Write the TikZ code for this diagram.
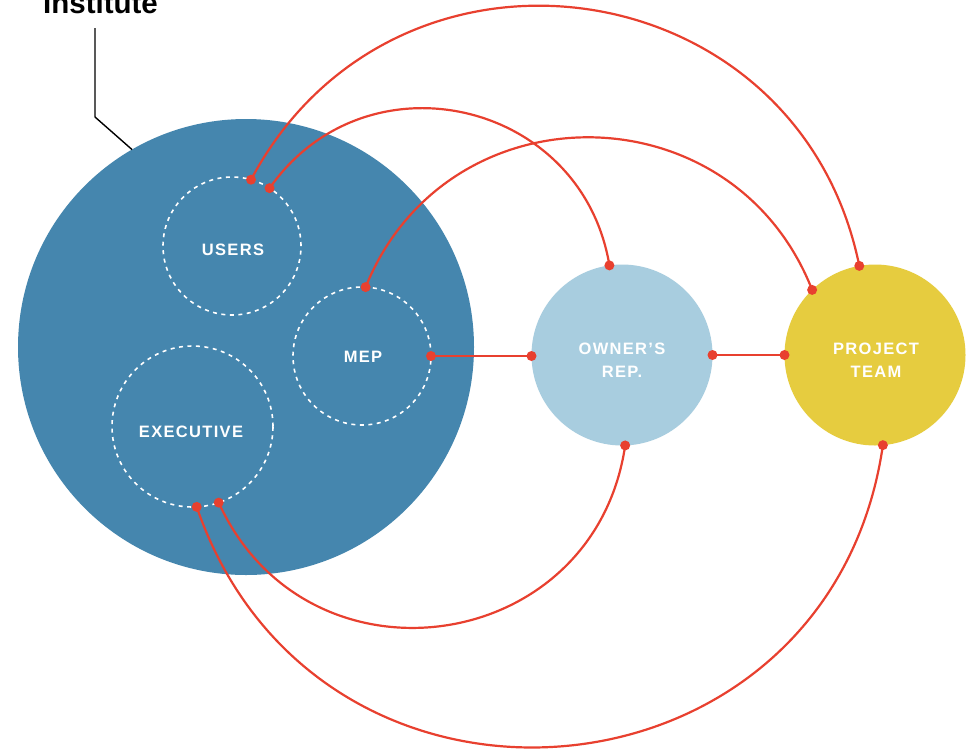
\documentclass[tikz,border=0pt]{standalone}
\usepackage{fontspec}
\setmainfont{Liberation Sans}
\newfontfamily\lblfont[LetterSpace=8.0]{Liberation Sans}
\definecolor{bigblue}{RGB}{69,134,174}
\definecolor{ltblue}{RGB}{168,205,223}
\definecolor{teamyel}{RGB}{230,204,63}
\definecolor{linkred}{RGB}{232,64,47}
\tikzset{
  bubble/.style={circle, inner sep=0pt, outer sep=0pt, draw=none},
  subgroup/.style={circle, inner sep=0pt, outer sep=0pt, draw=white, line width=1.6pt, dash pattern=on 4pt off 4.5pt},
  lbl/.style={text=white, inner sep=0pt, align=center, font=\lblfont\bfseries\fontsize{16.5}{22.7}\selectfont},
  link/.style={draw=linkred, line width=2.2pt},
  leader/.style={draw=black, line width=1.4pt},
}
\newcommand{\linkdot}[1]{\fill[linkred] (#1) circle (5pt);}
\begin{document}
\begin{tikzpicture}[x=1pt,y=1pt]
\useasboundingbox (0,0) rectangle (971,-750);
\fill[white] (0,0) rectangle (971,-750);

% main bubbles
\node[bubble, fill=bigblue, minimum size=456pt] (inst circle) at (246,-347) {};
\node[bubble, fill=ltblue, minimum size=181pt] (owner) at (622,-355) {};
\node[bubble, fill=teamyel, minimum size=181pt] (proj) at (875,-355) {};

% dashed sub groups
\node[subgroup, minimum size=138pt] (users) at (232,-246) {};
\node[subgroup, minimum size=138pt] (mep) at (362,-356) {};
\node[subgroup, minimum size=161pt] (exec) at (192.5,-426.5) {};

% labels
\node[lbl] (userst) at (233,-249.5) {USERS};
\node[lbl] (mept) at (363,-357) {MEP};
\node[lbl] (exect) at (191,-432) {EXECUTIVE};
\node[lbl] (ownert) at (622,-360.5) {OWNER’S\\REP.};
\node[lbl] (projt) at (876,-360.5) {PROJECT\\TEAM};

% institute label and leader
\node[anchor=base, inner sep=0pt, font=\bfseries\fontsize{29.5}{32}\selectfont] (inst) at (100.5,-13) {Institute};
\coordinate (lead) at (95,-28);
\draw[leader] (lead) -- ++(0,-89) -- (inst circle.120);

% connectors
\draw[link] (mep.east) -- (mep.east -| owner.west);
\draw[link] (owner.east) -- (proj.west);
\draw[link] (users.74) to[out=62, in=101.5, distance=306pt] (proj.100);
\draw[link] (users.57) to[out=55, in=99.4, distance=168pt] (owner.98);
\draw[link] (mep.87) to[out=68, in=111.4, distance=217pt] (proj.134);
\draw[link] (exec.-71) to[out=-65.5, in=-98.3, distance=213pt] (owner.-88);
\draw[link] (exec.-87) to[out=-71, in=-98.2, distance=372pt] (proj.-85);

% dots
\linkdot{mep.east}
\linkdot{mep.east -| owner.west}
\linkdot{owner.east}
\linkdot{proj.west}
\linkdot{users.74}
\linkdot{users.57}
\linkdot{mep.87}
\linkdot{exec.-71}
\linkdot{exec.-87}
\linkdot{owner.98}
\linkdot{owner.-88}
\linkdot{proj.134}
\linkdot{proj.100}
\linkdot{proj.-85}
\end{tikzpicture}
\end{document}
